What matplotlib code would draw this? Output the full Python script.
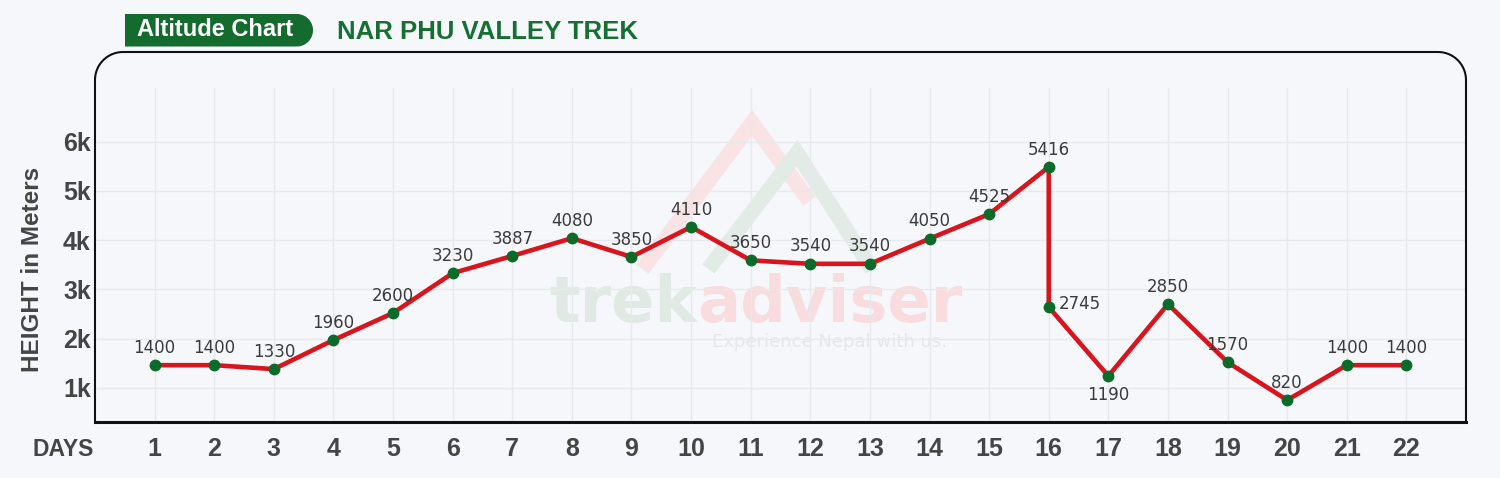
import numpy as np
import matplotlib.pyplot as plt
from matplotlib.patches import PathPatch
from matplotlib.path import Path
from matplotlib.lines import Line2D
from matplotlib.transforms import IdentityTransform

plt.rcParams['font.family'] = ['Liberation Sans', 'DejaVu Sans']

# data (day 16 has two stops: summit and descent)
days = [1, 2, 3, 4, 5, 6, 7, 8, 9, 10, 11, 12, 13, 14, 15, 16, 16, 17, 18, 19, 20, 21, 22]
heights = [1460, 1460, 1380, 1970, 2520, 3330, 3680, 4040, 3660, 4270, 3590, 3520, 3520,
           4030, 4530, 5490, 2640, 1240, 2700, 1520, 750, 1460, 1460]
labels = ['1400', '1400', '1330', '1960', '2600', '3230', '3887', '4080', '3850', '4110',
          '3650', '3540', '3540', '4050', '4525', '5416', '2745', '1190', '2850', '1570',
          '820', '1400', '1400']
day_ticks = list(range(1, 23))
y_ticks = [1000, 2000, 3000, 4000, 5000, 6000]
y_ticklabels = ['1k', '2k', '3k', '4k', '5k', '6k']

W, H = 1500, 478
bg = '#f5f7fb'
ink = '#454545'
red = '#d9141c'
green = '#0c6b29'

fig = plt.figure(figsize=(15, 4.78), dpi=100, facecolor=bg)
px = IdentityTransform()

# faint watermark behind the chart
fig.add_artist(Line2D([647, 752, 805], [H - 263, H - 123, H - 195], transform=px,
                      color='#fae3e4', lw=11, solid_joinstyle='miter', zorder=-2))
fig.add_artist(Line2D([713, 797, 868], [H - 263, H - 153, H - 263], transform=px,
                      color='#e2ebe5', lw=11, solid_joinstyle='miter', zorder=-2))
fig.text(697 / W, 1 - 322 / H, 'trek', ha='right', va='baseline', fontsize=46,
         fontweight='bold', family='DejaVu Sans', color='#e0e9e3', zorder=-1)
fig.text(697 / W, 1 - 322 / H, 'adviser', ha='left', va='baseline', fontsize=46,
         fontweight='bold', family='DejaVu Sans', color='#f9dcdd', zorder=-1)
fig.text(830 / W, 1 - 342 / H, 'Experience Nepal with us.', ha='center', va='center',
         fontsize=13, family='DejaVu Sans', color='#e6e7ea', zorder=-1)

ax = fig.add_axes([95 / W, 1 - 422 / H, (1466 - 95) / W, (422 - 88) / H])
ax.set_facecolor('none')
ax.set_xlim(0, 23)
ax.set_ylim(305, 7093)

ax.plot(days, heights, color=red, lw=3.3, zorder=3, solid_joinstyle='round')
ax.plot(days, heights, 'o', ms=7.5, color=green, zorder=4)

for i, (x, y, lab) in enumerate(zip(days, heights, labels)):
    if i == 16:
        ax.annotate(lab, (x, y), xytext=(7, 2), textcoords='offset points',
                    ha='left', va='center', fontsize=12, color='#3b3b3b', family='DejaVu Sans')
    elif i == 17:
        ax.annotate(lab, (x, y), xytext=(0, -7), textcoords='offset points',
                    ha='center', va='top', fontsize=12, color='#3b3b3b', family='DejaVu Sans')
    else:
        ax.annotate(lab, (x, y), xytext=(0, 6), textcoords='offset points',
                    ha='center', va='bottom', fontsize=12, color='#3b3b3b', family='DejaVu Sans')

ax.set_xticks(day_ticks)
ax.set_xticklabels([str(d) for d in day_ticks], fontweight='bold')
ax.set_yticks(y_ticks)
ax.set_yticklabels(y_ticklabels, fontweight='bold')
ax.tick_params(axis='x', length=0, pad=10.5, labelsize=18, labelcolor=ink)
ax.tick_params(axis='y', length=0, pad=3, labelsize=18, labelcolor=ink)
ax.grid(color='#e7e9ee', lw=1)
ax.set_axisbelow(True)
for s in ['top', 'right', 'left']:
    ax.spines[s].set_visible(False)
ax.spines['bottom'].set_color('#111111')
ax.spines['bottom'].set_linewidth(2.2)

# rounded frame (open at the bottom, where the axis line sits)
r = 28
L, R, T, B = 95, 1466, 52, 422
a1 = np.linspace(np.pi, np.pi / 2, 20)
a2 = np.linspace(np.pi / 2, 0, 20)
xs = [L] + list(L + r + r * np.cos(a1)) + list(R - r + r * np.cos(a2)) + [R]
ys = [B] + list(T + r - r * np.sin(a1)) + list(T + r - r * np.sin(a2)) + [B]
frame = np.column_stack([xs, H - np.array(ys)])
fig.add_artist(PathPatch(Path(frame), fill=False, edgecolor='#111111', lw=1.5,
                         transform=px, zorder=5))

# header badge: square left end, rounded right end
bx0, bx1, by0, by1 = 125, 313, 14, 46.5
br = (by1 - by0) / 2
ang = np.linspace(np.pi / 2, -np.pi / 2, 30)
bxs = [bx0, bx1 - br] + list(bx1 - br + br * np.cos(ang)) + [bx0]
bys = [by0, by0] + list(by0 + br - br * np.sin(ang)) + [by1]
badge = np.column_stack([bxs, H - np.array(bys)])
fig.add_artist(PathPatch(Path(badge), facecolor='#136b2d', lw=0, transform=px, zorder=5))
fig.text(215 / W, 1 - 30 / H, 'Altitude Chart', ha='center', va='center', fontsize=17,
         fontweight='bold', color='white', zorder=6)
fig.text(337 / W, 1 - 32 / H, 'NAR PHU VALLEY TREK', ha='left', va='center', fontsize=18.5,
         fontweight='bold', color='#157031', zorder=6)

fig.text(33 / W, 1 - 269 / H, 'HEIGHT in Meters', rotation=90, ha='center', va='center',
         fontsize=17.5, fontweight='bold', color=ink)
fig.text(63 / W, 1 - 449.5 / H, 'DAYS', ha='center', va='center', fontsize=16.5,
         fontweight='bold', color=ink)

fig.savefig('out.png', dpi=100, facecolor=bg)
